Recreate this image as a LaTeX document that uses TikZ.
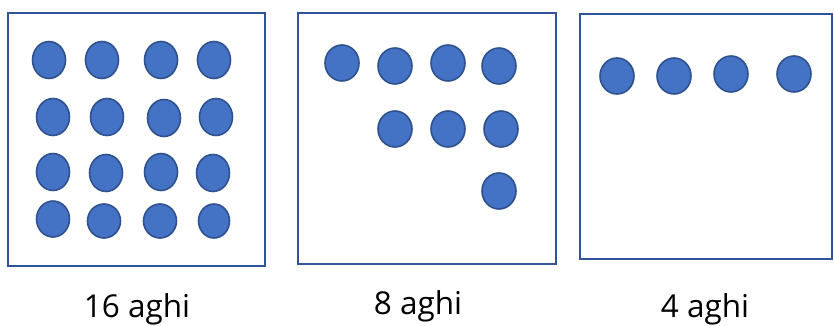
\documentclass[tikz,border=0pt]{standalone}
\usepackage{fontspec}
\setmainfont{Open Sans}
\usetikzlibrary{shapes.geometric}
\definecolor{dotfill}{HTML}{4472C4}
\definecolor{dotline}{HTML}{2F528F}
\definecolor{boxline}{HTML}{2F5597}
\tikzset{
  dot/.style={ellipse, fill=dotfill, draw=dotline, line width=1.6pt, minimum width=33pt, minimum height=37pt, inner sep=0pt},
  sdot/.style={dot, minimum width=34pt, minimum height=36pt},
  frame/.style={draw=boxline, line width=2pt},
  lbl/.style={font=\fontsize{31.5}{34}\selectfont, inner sep=0pt, anchor=base}
}
\begin{document}
\begin{tikzpicture}[x=1pt,y=-1pt]
\useasboundingbox (0,0) rectangle (834,326);
\fill[white] (0,0) rectangle (834,326);
% boxes
\draw[frame] (8,13) rectangle (265,266);
\draw[frame] (298,13) rectangle (556,264);
\draw[frame] (580,14) rectangle (832,259);
% box 1
\node[dot] (a11) at (49,60) {};
\node[dot] (a12) at (102,60) {};
\node[dot] (a13) at (161,60) {};
\node[dot] (a14) at (214,60) {};
\node[dot] (a21) at (53,117) {};
\node[dot] (a22) at (107,117) {};
\node[dot] (a23) at (164,118) {};
\node[dot] (a24) at (216,117) {};
\node[dot] (a31) at (53,172) {};
\node[dot] (a32) at (106,173) {};
\node[dot] (a33) at (161,172) {};
\node[dot] (a34) at (213,173) {};
\node[dot, minimum height=36pt] (a41) at (53,219) {};
\node[dot, minimum height=34pt] (a42) at (104,221) {};
\node[dot, minimum height=34pt] (a43) at (160,221) {};
\node[dot, minimum width=31pt, minimum height=34pt] (a44) at (214,221) {};
% box 2
\node[sdot] (b11) at (342,63) {};
\node[sdot] (b12) at (395,66) {};
\node[sdot] (b13) at (448,63) {};
\node[sdot] (b14) at (499,66) {};
\node[sdot] (b22) at (395,129) {};
\node[sdot] (b23) at (448,129) {};
\node[sdot] (b24) at (501,129) {};
\node[sdot] (b34) at (499,191) {};
% box 3
\node[sdot] (c1) at (617,76) {};
\node[sdot] (c2) at (674,76) {};
\node[sdot] (c3) at (731,74) {};
\node[sdot] (c4) at (794,74) {};
% labels
\node[lbl] (l1) at (137,317) {16 aghi};
\node[lbl] (l2) at (418,314) {8 aghi};
\node[lbl] (l3) at (705,317.5) {4 aghi};
\end{tikzpicture}
\end{document}
